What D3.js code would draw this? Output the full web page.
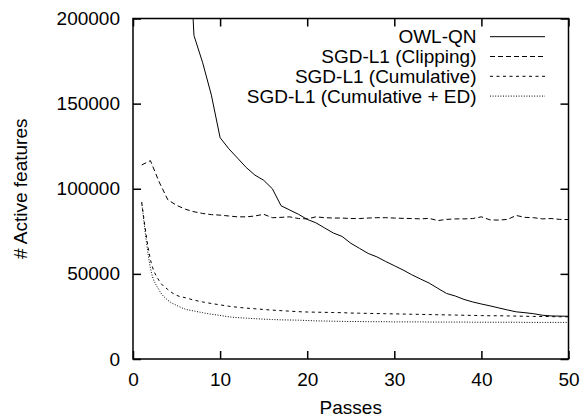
<!DOCTYPE html>
<html>
<head>
<meta charset="utf-8">
<script src="https://cdn.jsdelivr.net/npm/d3@7"></script>
<style>
  html, body { margin: 0; padding: 0; background: #fff; }
  svg { display: block; font-family: "Liberation Sans", Arial, sans-serif; }
</style>
</head>
<body>
<svg id="chart"></svg>
<script>
// Passes on the x axis
const passes = d3.range(1, 51);
const owlPasses = d3.range(6, 51);

// # active features per pass
const owlqn = [290000, 190000, 174000, 155000, 130000, 123500, 118000, 112500, 108000, 105000,
    100000, 90000, 87500, 85000, 82000, 80000, 77000, 74000, 72000, 68000,
    65000, 62000, 60000, 57300, 54800, 52300, 49500, 47000, 44600, 41500,
    38500, 37000, 35000, 33500, 32300, 31200, 30000, 28800, 27700, 27200,
    26600, 25700, 25300, 25200, 25100];

const clipping = [114000, 116500, 104000, 93500, 90300, 88000, 86500, 85500, 84800, 84500,
    84000, 83500, 83500, 84000, 85000, 83000, 83200, 83500, 82500, 82300,
    83500, 83000, 82800, 82800, 82500, 82500, 82800, 83000, 83000, 82800,
    82600, 82500, 82300, 82600, 81300, 82000, 82300, 82300, 82500, 83500,
    81700, 81600, 82000, 84300, 83200, 83000, 82300, 82500, 82000, 81900];

const cumulative = [92000, 58500, 46000, 40800, 37400, 36000, 34600, 33500, 32600, 31800,
    31000, 30400, 29900, 29500, 29100, 28700, 28400, 28100, 27800, 27600,
    27500, 27400, 27300, 27200, 27000, 26900, 26800, 26700, 26600, 26500,
    26400, 26300, 26200, 26100, 26000, 25900, 25800, 25700, 25600, 25500,
    25400, 25400, 25300, 25200, 25100, 25000, 25000, 24900, 24800, 24800];

const cumulativeEd = [92000, 53500, 40500, 34500, 31500, 29300, 28200, 27200, 26300, 25600,
    24800, 24300, 24000, 23700, 23400, 23200, 23000, 22900, 22800, 22600,
    22400, 22300, 22200, 22100, 22000, 22000, 21900, 21900, 21900, 21800,
    21800, 21800, 21800, 21700, 21700, 21700, 21700, 21700, 21600, 21600,
    21600, 21600, 21600, 21600, 21500, 21500, 21500, 21500, 21500, 21500];

const xTicks = [0, 10, 20, 30, 40, 50];
const yTicks = [0, 50000, 100000, 150000, 200000];

const width = 584, height = 416;
const margin = { top: 18.5, right: 15.5, bottom: 57, left: 133 };
const innerW = width - margin.left - margin.right;
const innerH = height - margin.top - margin.bottom;
const fontSize = 19;

const svg = d3.select('#chart')
    .attr('width', width)
    .attr('height', height);

const x = d3.scaleLinear().domain([0, 50]).range([0, innerW]);
const y = d3.scaleLinear().domain([0, 200000]).range([innerH, 0]);

const g = svg.append('g')
    .attr('transform', `translate(${margin.left},${margin.top})`);

g.append('clipPath')
    .attr('id', 'plot-clip')
    .append('rect')
    .attr('width', innerW)
    .attr('height', innerH);

// Axes: ticks point inward, mirrored on top and right
const bottomAxis = g.append('g')
    .attr('transform', `translate(0,${innerH})`)
    .call(d3.axisBottom(x).tickValues(xTicks).tickSizeInner(-8).tickSizeOuter(0).tickPadding(13.5));

const topAxis = g.append('g')
    .call(d3.axisTop(x).tickValues(xTicks).tickSizeInner(-8).tickSizeOuter(0).tickFormat(''));

const leftAxis = g.append('g')
    .call(d3.axisLeft(y).tickValues(yTicks).tickSizeInner(-8).tickSizeOuter(0).tickPadding(13).tickFormat(d3.format('d')));

const rightAxis = g.append('g')
    .attr('transform', `translate(${innerW},0)`)
    .call(d3.axisRight(y).tickValues(yTicks).tickSizeInner(-8).tickSizeOuter(0).tickFormat(''));

[bottomAxis, topAxis, leftAxis, rightAxis].forEach(a => {
    a.select('.domain').remove();
    a.selectAll('line').attr('stroke', '#000').attr('stroke-width', 1.5);
    a.selectAll('text')
        .attr('fill', '#000')
        .attr('font-size', fontSize + 'px')
        .attr('font-family', '"Liberation Sans", Arial, sans-serif');
});

// Frame
g.append('rect')
    .attr('width', innerW)
    .attr('height', innerH)
    .attr('fill', 'none')
    .attr('stroke', '#000')
    .attr('stroke-width', 1.5);

// Series
const series = [
    { name: 'OWL-QN', xs: owlPasses, ys: owlqn, dash: null, curve: d3.curveLinear },
    { name: 'SGD-L1 (Clipping)', xs: passes, ys: clipping, dash: '5,3', curve: d3.curveLinear },
    { name: 'SGD-L1 (Cumulative)', xs: passes, ys: cumulative, dash: '3,3.5', curve: d3.curveMonotoneX },
    { name: 'SGD-L1 (Cumulative + ED)', xs: passes, ys: cumulativeEd, dash: '1,1.6', curve: d3.curveMonotoneX }
];

const plot = g.append('g').attr('clip-path', 'url(#plot-clip)');

series.forEach(s => {
    const line = d3.line()
        .x(i => x(s.xs[i]))
        .y(i => y(s.ys[i]))
        .curve(s.curve);

    plot.append('path')
        .datum(d3.range(s.ys.length))
        .attr('fill', 'none')
        .attr('stroke', '#000')
        .attr('stroke-width', 1)
        .attr('stroke-dasharray', s.dash)
        .attr('d', line);
});

// Legend
const legend = g.append('g')
    .attr('transform', `translate(${476.5 - margin.left},${36.7 - margin.top})`);

series.forEach((s, i) => {
    const row = legend.append('g').attr('transform', `translate(0,${i * 19.8})`);
    row.append('text')
        .attr('x', 0)
        .attr('dy', '0.35em')
        .attr('text-anchor', 'end')
        .attr('font-size', fontSize + 'px')
        .attr('fill', '#000')
        .text(s.name);
    row.append('line')
        .attr('x1', 13.5)
        .attr('x2', 68.5)
        .attr('stroke', '#000')
        .attr('stroke-width', 1)
        .attr('stroke-dasharray', s.dash);
});

// Axis titles
svg.append('text')
    .attr('x', margin.left + innerW / 2)
    .attr('y', 413.5)
    .attr('text-anchor', 'middle')
    .attr('font-size', fontSize + 'px')
    .text('Passes');

svg.append('text')
    .attr('transform', `translate(26.5,${margin.top + innerH / 2}) rotate(-90)`)
    .attr('text-anchor', 'middle')
    .attr('font-size', fontSize + 'px')
    .text('# Active features');
</script>
</body>
</html>
